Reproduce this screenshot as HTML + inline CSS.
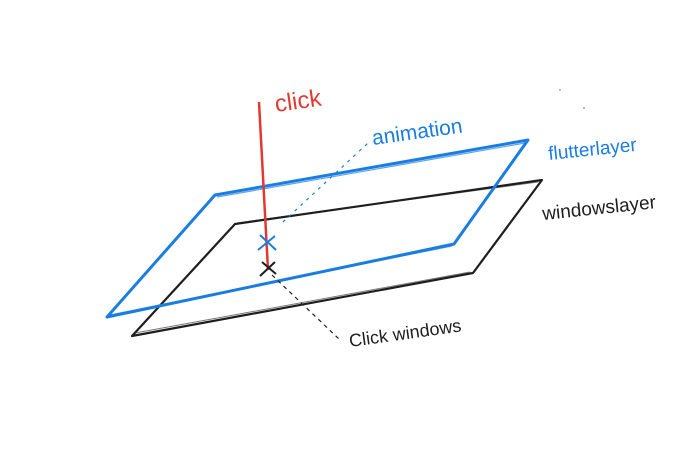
<!DOCTYPE html>
<html><head><meta charset="utf-8"><style>
html,body{margin:0;padding:0;background:#fff;}
svg{display:block;}
text{font-family:"Liberation Sans",sans-serif;}
</style></head><body>
<svg width="700" height="450" viewBox="0 0 700 450">
<g fill="none" stroke="#1e1e1e" stroke-width="2.2" stroke-linejoin="round">
<path d="M235 224 L542 180 L473 273 L132 336 Z"/>
<path d="M237 223 L538 182 M135 333 L470 272" stroke-width="1" opacity="0.6"/>
</g>
<g fill="none" stroke="#1a7de0" stroke-width="3" stroke-linejoin="round">
<path d="M215 195 L528 140 L454 244 L107 317 Z"/>
<path d="M217 197 L525 143 M110 315 L452 246" stroke-width="1.2" opacity="0.7"/>
</g>
<line x1="259" y1="102" x2="268" y2="270" stroke="#e03a30" stroke-width="2.5"/>
<g stroke="#1a7de0" stroke-width="2">
<line x1="260" y1="235" x2="276" y2="250"/><line x1="258" y1="250" x2="275" y2="236"/>
</g>
<g stroke="#1e1e1e" stroke-width="2">
<line x1="262" y1="262" x2="276" y2="274"/><line x1="260" y1="276" x2="275" y2="262"/>
</g>
<line x1="283" y1="222" x2="368" y2="143" stroke="#1a7de0" stroke-width="1.2" stroke-dasharray="3,5"/>
<line x1="272" y1="275" x2="340" y2="340" stroke="#1e1e1e" stroke-width="1.2" stroke-dasharray="4,4"/>
<text x="276" y="112" font-size="24" fill="#e03a30" transform="rotate(-8 276 112)">click</text>
<text x="373" y="145" font-size="21" fill="#1a7de0" transform="rotate(-8 373 145)">animation</text>
<text x="549" y="160" font-size="19" fill="#1a7de0" transform="rotate(-6 549 160)">flutterlayer</text>
<text x="543" y="220" font-size="19" fill="#1e1e1e" transform="rotate(-6 543 220)">windowslayer</text>
<text x="350" y="347" font-size="18" fill="#1e1e1e" transform="rotate(-8 350 347)">Click windows</text>
<circle cx="560" cy="90" r="0.8" fill="#1a7de0"/>
<circle cx="584" cy="108" r="0.8" fill="#1a7de0"/>
</svg>
</body></html>
